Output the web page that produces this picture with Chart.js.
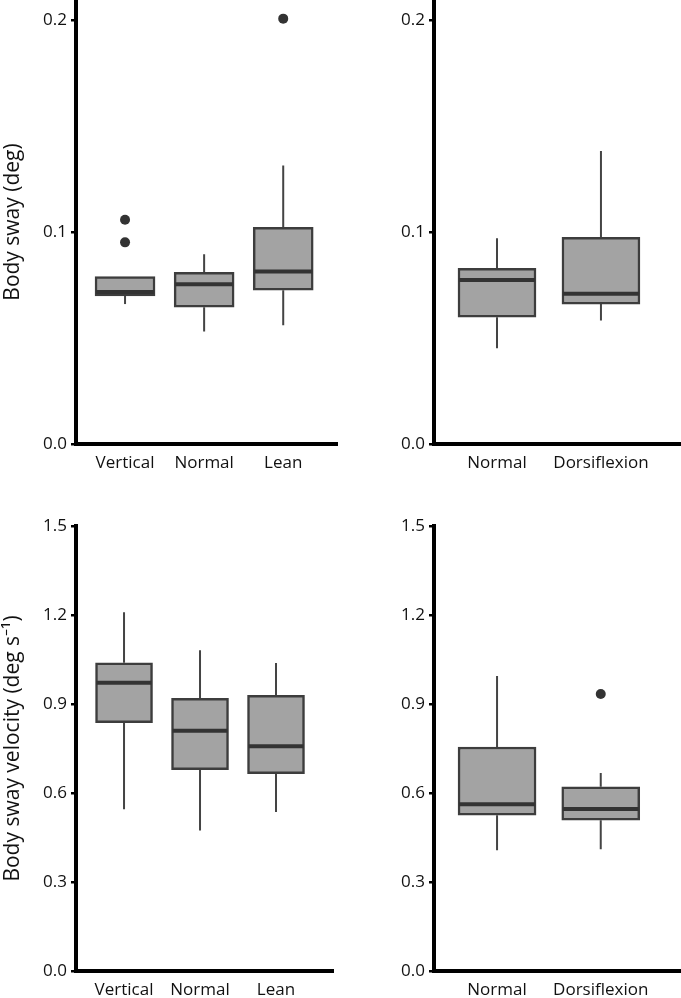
<!DOCTYPE html>
<html><head><meta charset="utf-8">
<script src="https://cdn.jsdelivr.net/npm/chart.js@4.4.1/dist/chart.umd.min.js"></script>
<style>
body{margin:0;background:#fff;width:681px;height:998px;position:relative;overflow:hidden}
canvas{position:absolute}
</style></head><body>
<canvas id="c1" width="340" height="490" style="left:0;top:0"></canvas>
<canvas id="c2" width="341" height="490" style="left:340px;top:0"></canvas>
<canvas id="c3" width="340" height="508" style="left:0;top:490px"></canvas>
<canvas id="c4" width="341" height="508" style="left:340px;top:490px"></canvas>
<script>
// ---- data ----
const postureCats = ['Vertical', 'Normal', 'Lean'];
const ankleCats = ['Normal', 'Dorsiflexion'];
const swayTicks = [0.0, 0.1, 0.2];
const velTicks = [0.0, 0.3, 0.6, 0.9, 1.2, 1.5];

// Body sway (deg), posture conditions
const swayPostureLo  = [0.066, 0.053, 0.056];
const swayPostureQ1  = [0.0698, 0.0645, 0.0725];
const swayPostureMed = [0.0717, 0.0753, 0.0813];
const swayPostureQ3  = [0.0789, 0.081, 0.1022];
const swayPostureHi  = [0.0789, 0.0895, 0.1313];
const swayPostureOut = [[0.1058, 0.0951], [], [0.2006]];

// Body sway (deg), ankle conditions
const swayAnkleLo  = [0.0451, 0.0582];
const swayAnkleQ1  = [0.0598, 0.066];
const swayAnkleMed = [0.0774, 0.0709];
const swayAnkleQ3  = [0.0829, 0.0975];
const swayAnkleHi  = [0.097, 0.1382];
const swayAnkleOut = [[], []];

// Body sway velocity (deg s-1), posture conditions
const velPostureLo  = [0.545, 0.474, 0.536];
const velPostureQ1  = [0.837, 0.679, 0.665];
const velPostureMed = [0.972, 0.810, 0.758];
const velPostureQ3  = [1.039, 0.919, 0.929];
const velPostureHi  = [1.209, 1.081, 1.038];
const velPostureOut = [[], [], []];

// Body sway velocity (deg s-1), ankle conditions
const velAnkleLo  = [0.407, 0.410];
const velAnkleQ1  = [0.525, 0.508];
const velAnkleMed = [0.562, 0.546];
const velAnkleQ3  = [0.755, 0.621];
const velAnkleHi  = [0.994, 0.667];
const velAnkleOut = [[], [0.934]];

// ---- drawing ----
const FONT = "'Open Sans', sans-serif";
const TXT = '#111';
const BOX_FILL = '#a3a3a3';
const BOX_LINE = '#3d3d3d';
const DARK = '#333333';

const boxParts = {
  id: 'boxParts',
  beforeDatasetsDraw(chart) {
    const o = chart.config.options.boxData;
    const x = chart.scales.x, y = chart.scales.y, ctx = chart.ctx;
    ctx.save();
    ctx.strokeStyle = '#444';
    ctx.lineWidth = 2;
    o.lo.forEach((lo, i) => {
      const px = x.getPixelForValue(i + 1);
      ctx.beginPath();
      ctx.moveTo(px, y.getPixelForValue(lo));
      ctx.lineTo(px, y.getPixelForValue(o.q1[i]));
      ctx.moveTo(px, y.getPixelForValue(o.q3[i]));
      ctx.lineTo(px, y.getPixelForValue(o.hi[i]));
      ctx.stroke();
    });
    ctx.restore();
  },
  afterDatasetsDraw(chart) {
    const o = chart.config.options.boxData;
    const x = chart.scales.x, y = chart.scales.y, ctx = chart.ctx;
    ctx.save();
    ctx.strokeStyle = DARK;
    ctx.lineWidth = 4;
    o.med.forEach((m, i) => {
      const px = x.getPixelForValue(i + 1);
      const py = y.getPixelForValue(m);
      ctx.beginPath();
      ctx.moveTo(px - o.w / 2 + 1, py);
      ctx.lineTo(px + o.w / 2 - 1, py);
      ctx.stroke();
    });
    ctx.restore();
  }
};

function makePanel(id, cfg) {
  const outPts = [];
  cfg.out.forEach((arr, i) => arr.forEach(v => outPts.push({x: i + 1, y: v})));
  new Chart(document.getElementById(id), {
    type: 'bar',
    data: {
      datasets: [
        {
          type: 'bar',
          data: cfg.cats.map((c, i) => ({x: i + 1, y: [cfg.q1[i], cfg.q3[i]]})),
          backgroundColor: BOX_FILL,
          borderColor: BOX_LINE,
          borderWidth: 2.5,
          borderSkipped: false,
          barThickness: cfg.w,
          order: 2
        },
        {
          type: 'scatter',
          data: outPts,
          pointRadius: 5,
          pointBackgroundColor: DARK,
          pointBorderWidth: 0,
          clip: false,
          order: 1
        }
      ]
    },
    options: {
      boxData: {lo: cfg.lo, q1: cfg.q1, med: cfg.med, q3: cfg.q3, hi: cfg.hi, w: cfg.w},
      responsive: false,
      animation: false,
      events: [],
      layout: {autoPadding: false, padding: {top: cfg.padTop, right: cfg.padRight, left: 0, bottom: 0}},
      plugins: {legend: {display: false}, tooltip: {enabled: false}},
      scales: {
        x: {
          type: 'linear',
          min: cfg.xmin, max: cfg.xmax,
          offset: false,
          grid: {display: false, drawTicks: false},
          border: {display: true, color: '#000', width: 4},
          afterBuildTicks: s => { s.ticks = cfg.cats.map((c, i) => ({value: i + 1})); },
          afterFit: s => { s.height = cfg.xh; s.paddingLeft = 0; s.paddingRight = 0; },
          ticks: {
            autoSkip: false, maxRotation: 0, padding: 9,
            color: TXT, font: {family: FONT, size: 17},
            callback: (v, i) => cfg.cats[i]
          }
        },
        y: {
          type: 'linear',
          min: 0, max: cfg.ymax,
          grid: {display: true, drawOnChartArea: false, drawTicks: true, tickLength: 5, lineWidth: 2.5, color: '#000'},
          border: {display: true, color: '#000', width: 4},
          afterBuildTicks: s => { s.ticks = cfg.yticks.map(v => ({value: v})); },
          afterFit: s => { s.width = cfg.yw; s.paddingTop = 0; s.paddingBottom = 0; },
          ticks: {
            padding: 4, color: TXT, font: {family: FONT, size: 17},
            callback: v => Number(v).toFixed(1)
          },
          title: {
            display: !!cfg.title, text: cfg.title || '',
            color: TXT, font: {family: FONT, size: 21},
            padding: {top: 0, bottom: 0}
          }
        }
      }
    },
    plugins: [boxParts]
  });
}

makePanel('c1', {cats: postureCats, lo: swayPostureLo, q1: swayPostureQ1, med: swayPostureMed, q3: swayPostureQ3, hi: swayPostureHi, out: swayPostureOut,
  yticks: swayTicks, ymax: 0.2094, xmin: 0.38, xmax: 3.68, w: 60, yw: 76, xh: 46, padTop: 0, padRight: 3, title: 'Body sway (deg)'});
makePanel('c2', {cats: ankleCats, lo: swayAnkleLo, q1: swayAnkleQ1, med: swayAnkleMed, q3: swayAnkleQ3, hi: swayAnkleHi, out: swayAnkleOut,
  yticks: swayTicks, ymax: 0.2094, xmin: 0.394, xmax: 2.77, w: 78, yw: 94, xh: 46, padTop: 0, padRight: 0, title: ''});
makePanel('c3', {cats: postureCats, lo: velPostureLo, q1: velPostureQ1, med: velPostureMed, q3: velPostureQ3, hi: velPostureHi, out: velPostureOut,
  yticks: velTicks, ymax: 1.5, xmin: 0.368, xmax: 3.75, w: 57, yw: 76, xh: 27, padTop: 36, padRight: 7, title: 'Body sway velocity (deg s\u207B\u00B9)'});
makePanel('c4', {cats: ankleCats, lo: velAnkleLo, q1: velAnkleQ1, med: velAnkleMed, q3: velAnkleQ3, hi: velAnkleHi, out: velAnkleOut,
  yticks: velTicks, ymax: 1.5, xmin: 0.392, xmax: 2.774, w: 78, yw: 94, xh: 27, padTop: 36, padRight: 0, title: ''});
</script>
</body></html>
